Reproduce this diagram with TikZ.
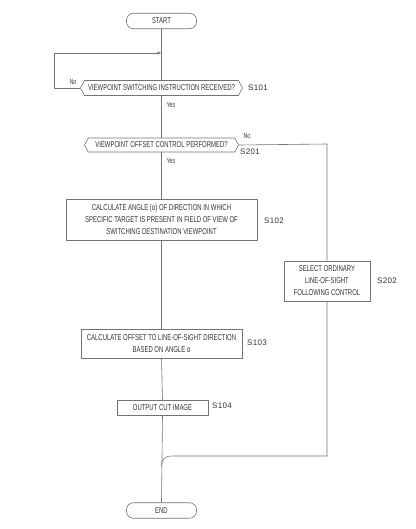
\documentclass[tikz,border=0pt]{standalone}
\usepackage{fontspec}
\setmainfont{Liberation Sans}[FakeStretch=0.7]
\newfontfamily\lblfont{Liberation Sans}[LetterSpace=4]
\usetikzlibrary{shapes.symbols,arrows.meta}
\begin{document}
\begin{tikzpicture}[x=1pt,y=-1pt,
  every node/.style={font=\fontsize{8.5}{12}\selectfont, text=black!80, inner sep=0pt},
  flow/.style={draw=black!55, line width=0.6pt},
  term/.style={draw=black!55, line width=0.6pt, rounded corners=7pt, minimum width=70pt, minimum height=15.5pt},
  stepbox/.style={draw=black!55, line width=0.6pt, align=center},
  decide/.style={draw=black!55, line width=0.6pt, signal, signal to=west and east, signal pointer angle=124, minimum height=15pt},
  steplbl/.style={font=\lblfont\fontsize{8}{10}\selectfont, anchor=west},
  yn/.style={font=\fontsize{7.5}{8}\selectfont}]
\useasboundingbox (0,0) rectangle (415,529);
\node[term] (start) at (161.5,21) {START};
\node[decide, minimum width=162pt] (s101) at (161.5,88) {VIEWPOINT SWITCHING INSTRUCTION RECEIVED?};
\node[decide, minimum width=154pt, minimum height=14pt] (s201) at (161.5,145) {VIEWPOINT OFFSET CONTROL PERFORMED?};
\node[stepbox, minimum width=191pt, minimum height=41pt] (s102) at (161.5,219.5) {CALCULATE ANGLE (α) OF DIRECTION IN WHICH\\SPECIFIC TARGET IS PRESENT IN FIELD OF VIEW OF\\SWITCHING DESTINATION VIEWPOINT};
\node[stepbox, minimum width=86pt, minimum height=40pt] (s202) at (327,281) {SELECT ORDINARY\\LINE-OF-SIGHT\\FOLLOWING CONTROL};
\node[stepbox, minimum width=161pt, minimum height=29pt] (s103) at (161.5,343.5) {CALCULATE OFFSET TO LINE-OF-SIGHT DIRECTION\\BASED ON ANGLE α};
\node[stepbox, minimum width=91pt, minimum height=15pt] (s104) at (162.5,407.5) {OUTPUT CUT IMAGE};
\node[term] (end) at (161.5,510.5) {END};
% labels
\node[steplbl] (l101) at (248,88) {S101};
\node[steplbl] (l201) at (240,152) {S201};
\node[steplbl] (l102) at (264,221) {S102};
\node[steplbl] (l202) at (377,281) {S202};
\node[steplbl] (l103) at (247,343) {S103};
\node[steplbl] (l104) at (212,406) {S104};
\node[yn] (no1) at (73,82) {No};
\node[yn] (yes1) at (171,105) {Yes};
\node[yn] (no2) at (247,136) {No};
\node[yn] (yes2) at (171,161) {Yes};
% coordinates
\coordinate (loopj) at (161.5,53);
\coordinate (loopl) at (54,53);
\coordinate (loopb) at (54,88);
\coordinate (rt) at (327,144);
\coordinate (rb) at (327,456);
\coordinate (c1) at (172,456);
\coordinate (merge) at (161.5,467);
% connectors
\draw[flow] (start.south) -- (s101.north);
\draw[flow] (s101.south) -- (s201.north);
\draw[flow] (s201.south) -- (s102.north);
\draw[flow] (s102.south) -- (s103.north);
\draw[flow] (s103.south) -- (s104.north);
\draw[flow] (s104.south) -- (end.north);
\draw[flow, -{Latex[length=4pt,width=3.5pt]}] (s101.west) -- (loopb) -- (loopl) -- (loopj);
\draw[flow] (s201.east) -- (rt) -- (s202.north);
\draw[flow] (s202.south) -- (rb) -- (c1) .. controls (164,456) and (161.5,460) .. (merge);
\end{tikzpicture}
\end{document}
